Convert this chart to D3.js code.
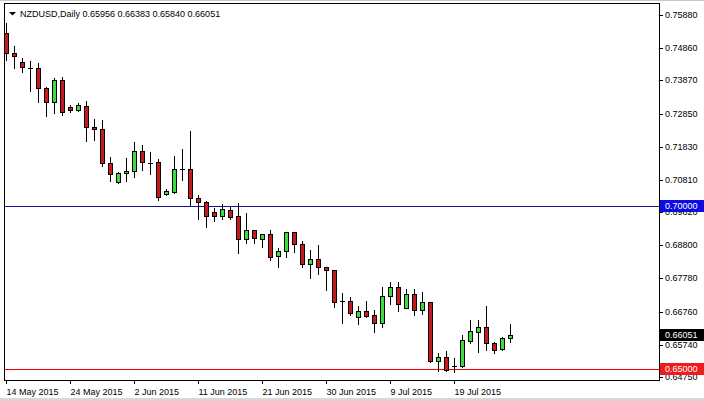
<!DOCTYPE html>
<html>
<head>
<meta charset="utf-8">
<script src="https://cdn.jsdelivr.net/npm/d3@7"></script>
<style>
	body { margin: 0; background: #ffffff; }
	svg text { font-family: "Liberation Sans", Arial, sans-serif; font-size: 9px; }
</style>
</head>
<body>
<div id="chart"></div>
<script>
//chart title values
var symbolName = "NZDUSD,Daily",
	lastBar = ["0.65956", "0.66383", "0.65840", "0.66051"];

//daily bars, 14 May 2015 onwards
var openVals = [0.75327,0.74727,0.74426,0.74262,0.74241,0.73626,0.73214,0.73881,0.73042,0.72959,
	0.73091,0.72427,0.72365,0.71338,0.70754,0.71012,0.71083,0.71698,0.71340,0.71351,
	0.70367,0.70447,0.71135,0.71130,0.70244,0.70139,0.69813,0.69709,0.69884,0.69699,
	0.68983,0.69269,0.68992,0.69137,0.68469,0.68623,0.69198,0.68829,0.68223,0.68368,
	0.68122,0.68039,0.67095,0.67095,0.66584,0.66769,0.66655,0.66400,0.67239,0.67507,
	0.66880,0.67292,0.66809,0.67055,0.65250,0.65354,0.65089,0.65087,0.65865,0.66142,
	0.66277,0.65785,0.65610,0.65956];
var highVals = [0.75634,0.74927,0.74549,0.74456,0.74395,0.73666,0.73943,0.73974,0.73113,0.73183,
	0.73236,0.72682,0.72651,0.71523,0.71062,0.71474,0.71966,0.71883,0.71658,0.71443,
	0.70539,0.71544,0.71760,0.72313,0.70345,0.70176,0.69936,0.70059,0.69985,0.70108,
	0.69782,0.69280,0.69145,0.69269,0.68706,0.69210,0.69210,0.68931,0.68654,0.68808,
	0.68140,0.68045,0.67322,0.67218,0.66932,0.67095,0.66809,0.67507,0.67679,0.67661,
	0.67445,0.67445,0.67378,0.67060,0.65477,0.65548,0.65324,0.66040,0.66501,0.66501,
	0.66932,0.65834,0.65988,0.66383];
var lowVals = [0.74496,0.74260,0.74137,0.73552,0.73214,0.72784,0.72876,0.72805,0.72907,0.72937,
	0.72015,0.72036,0.71237,0.70785,0.70705,0.70785,0.70908,0.71114,0.70991,0.70191,
	0.70360,0.70397,0.70806,0.70038,0.69598,0.69370,0.69555,0.69598,0.69607,0.68552,
	0.68860,0.68860,0.68755,0.68346,0.68122,0.68448,0.68602,0.68140,0.67784,0.67916,
	0.67424,0.66892,0.66418,0.66655,0.66378,0.66603,0.66142,0.66277,0.66993,0.66787,
	0.66860,0.66646,0.66686,0.65219,0.64948,0.64942,0.64911,0.65065,0.65785,0.65526,
	0.65579,0.65496,0.65579,0.65840];
var closeVals = [0.74727,0.74629,0.74272,0.74255,0.73626,0.73214,0.73881,0.72907,0.72959,0.73113,
	0.72427,0.72365,0.71338,0.70982,0.71012,0.71083,0.71698,0.71351,0.71336,0.70293,
	0.70468,0.71135,0.71130,0.70244,0.70139,0.69709,0.69699,0.69905,0.69678,0.68983,
	0.69269,0.69014,0.69137,0.68448,0.68623,0.69198,0.68829,0.68214,0.68368,0.68122,
	0.68039,0.67064,0.67090,0.66707,0.66769,0.66624,0.66400,0.67239,0.67507,0.66993,
	0.67292,0.66809,0.67055,0.65250,0.65354,0.64964,0.65085,0.65886,0.66163,0.66277,
	0.65785,0.65579,0.65939,0.66051];

//time axis labels and the bar they belong to
var dateLabels = ["14 May 2015", "24 May 2015", "2 Jun 2015", "11 Jun 2015", "21 Jun 2015", "30 Jun 2015", "9 Jul 2015", "19 Jul 2015"],
	dateBars = [0, 8, 16, 24, 32, 40, 48, 56];

//price axis labels
var priceTicks = [0.75880, 0.74860, 0.73870, 0.72850, 0.71830, 0.70810, 0.69820, 0.68800, 0.67780, 0.66760, 0.65740, 0.64750];

//horizontal lines
var levelVals = [0.70000, 0.65000],
	levelColours = ["#12128c", "#ff0000"],
	levelBoxColours = ["#0c0ce0", "#ee1c1c"];

//frame dimensions
var width = 704,
	height = 401,
	plotLeft = 4,
	plotRight = 659,
	plotTop = 3,
	plotBottom = 380;

var bullColour = "#3cdc3c",
	bearColour = "#c81a1e";

var x = d3.scaleLinear()
	.domain([0, 63])
	.range([6, 510]);

var y = d3.scaleLinear()
	.domain([0.75880, 0.64750])
	.rangeRound([15, 377]);

var svg = d3.select("#chart")
	.append("svg")
	.attr("width", width)
	.attr("height", height);

svg.append("rect")
	.attr("width", width)
	.attr("height", height)
	.style("fill", "#ffffff");

//window edges
svg.append("rect").attr("x", 0).attr("y", 0).attr("width", width).attr("height", 1).style("fill", "#c8c8c8");
svg.append("rect").attr("x", 0).attr("y", 398).attr("width", width).attr("height", 3).style("fill", "#d8d8d8");

var bars = d3.range(openVals.length).map(function(i) {
	return {i: i, o: openVals[i], h: highVals[i], l: lowVals[i], c: closeVals[i]};
});

var plot = svg.append("g")
	.attr("shape-rendering", "crispEdges");

//level lines
plot.selectAll(".level")
	.data(levelVals)
	.enter()
	.append("line")
		.attr("class", "level")
		.attr("x1", plotLeft)
		.attr("x2", plotRight)
		.attr("y1", function(d) { return y(d) + 0.5; })
		.attr("y2", function(d) { return y(d) + 0.5; })
		.style("stroke", function(d, i) { return levelColours[i]; });

//wicks
plot.selectAll(".wick")
	.data(bars)
	.enter()
	.append("line")
		.attr("class", "wick")
		.attr("x1", function(d) { return x(d.i) + 0.5; })
		.attr("x2", function(d) { return x(d.i) + 0.5; })
		.attr("y1", function(d) { return y(d.h); })
		.attr("y2", function(d) { return y(d.l) + 1; })
		.style("stroke", "#000000");

//bodies
bars.forEach(function(d) {
	var top = y(Math.max(d.o, d.c)),
		bot = y(Math.min(d.o, d.c)),
		cx = x(d.i);
	if (bot - top < 1) {
		plot.append("line")
			.attr("x1", cx - 2)
			.attr("x2", cx + 3)
			.attr("y1", top + 0.5)
			.attr("y2", top + 0.5)
			.style("stroke", "#000000");
	} else {
		plot.append("rect")
			.attr("x", cx - 1.5)
			.attr("y", top + 0.5)
			.attr("width", 4)
			.attr("height", bot - top)
			.style("fill", d.c > d.o ? bullColour : bearColour)
			.style("stroke", "#000000");
	}
});

//frame
svg.append("rect")
	.attr("x", plotLeft + 0.5)
	.attr("y", plotTop + 0.5)
	.attr("width", plotRight - plotLeft)
	.attr("height", plotBottom - plotTop)
	.attr("shape-rendering", "crispEdges")
	.style("fill", "none")
	.style("stroke", "#000000");

//price axis
var yAxis = svg.append("g")
	.attr("transform", "translate(" + plotRight + ",0)")
	.call(d3.axisRight(y)
		.tickValues(priceTicks)
		.tickSize(4)
		.tickPadding(2)
		.tickFormat(d3.format(".5f")));
yAxis.select(".domain").remove();
yAxis.selectAll("text").style("font-size", "9px").style("font-family", "Liberation Sans, Arial, sans-serif");

//time axis
var xAxis = svg.append("g")
	.attr("transform", "translate(0," + plotBottom + ")")
	.call(d3.axisBottom(x)
		.tickValues(dateBars)
		.tickSize(4)
		.tickPadding(5)
		.tickFormat(function(d, i) { return dateLabels[i]; }));
xAxis.select(".domain").remove();
xAxis.selectAll("text")
	.attr("text-anchor", "start")
	.attr("x", 0)
	.style("font-size", "9px")
	.style("font-family", "Liberation Sans, Arial, sans-serif");

//price boxes on the right
var boxVals = levelVals.concat([closeVals[closeVals.length - 1]]),
	boxColours = levelBoxColours.concat(["#000000"]);

var boxes = svg.selectAll(".pricebox")
	.data(boxVals)
	.enter()
	.append("g")
	.attr("transform", function(d) { return "translate(660," + (y(d) - 6) + ")"; });
boxes.append("rect")
	.attr("width", 44)
	.attr("height", 12)
	.style("fill", function(d, i) { return boxColours[i]; });
boxes.append("text")
	.attr("x", 5)
	.attr("y", 6)
	.attr("dy", "0.35em")
	.style("fill", "#ffffff")
	.text(function(d) { return d3.format(".5f")(d); });

//title
svg.append("path")
	.attr("d", "M9,12L16,12L12.5,15.5Z")
	.style("fill", "#000000");
svg.append("text")
	.attr("x", 20)
	.attr("y", 17)
	.text(symbolName + "  " + lastBar.join(" "));
</script>
</body>
</html>
